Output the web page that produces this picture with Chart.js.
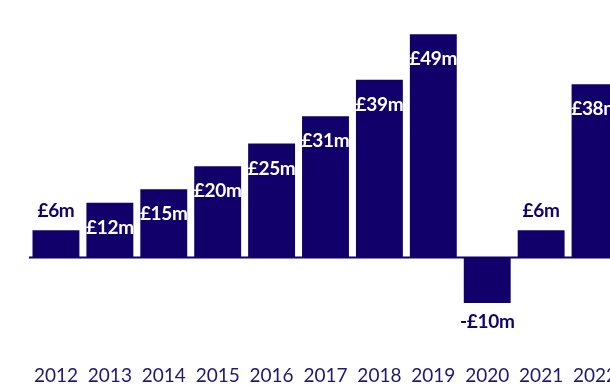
<!DOCTYPE html>
<html>
<head>
<meta charset="utf-8">
<script src="https://cdn.jsdelivr.net/npm/chart.js@4/dist/chart.umd.min.js"></script>
<style>
    html, body { margin: 0; padding: 0; background: #fff; overflow: hidden; }
    #wrap { position: relative; width: 622px; height: 386px; }
</style>
</head>
<body>
<div id="wrap"><canvas id="profitChart"></canvas></div>
<script>
const years = ['2012', '2013', '2014', '2015', '2016', '2017', '2018', '2019', '2020', '2021', '2022'];
const profits = [6, 12, 15, 20, 25, 31, 39, 49, -10, 6, 38];
const navy = '#12006a';

function money(v) {
    return (v < 0 ? '-£' : '£') + Math.abs(v) + 'm';
}

// value labels: white inside tall bars, navy outside short or negative ones
const barLabels = {
    id: 'barLabels',
    afterDatasetsDraw(chart) {
        const c = chart.ctx;
        const area = chart.chartArea;
        const zero = chart.scales.y.getPixelForValue(0);

        c.save();
        c.fillStyle = navy;
        c.fillRect(area.left, zero - 1, area.right - area.left, 2);

        c.font = 'bold 19px Lato';
        c.letterSpacing = '-0.3px';
        c.textAlign = 'center';
        c.textBaseline = 'middle';
        chart.getDatasetMeta(0).data.forEach(function (bar, i) {
            let v = profits[i];
            let y;
            if (v < 0) {
                c.fillStyle = navy;
                y = bar.y + 19;
            } else if (v < 10) {
                c.fillStyle = navy;
                y = bar.y - 19;
            } else {
                c.fillStyle = '#ffffff';
                y = bar.y + 25;
            }
            c.fillText(money(v), bar.x, y);
        });
        c.restore();
    }
};

const ctx = document.getElementById('profitChart');

new Chart(ctx, {
    type: 'bar',
    data: {
        labels: years,
        datasets: [{
            data: profits,
            backgroundColor: navy,
            borderWidth: 0,
            categoryPercentage: 1,
            barPercentage: 0.87,
        }]
    },
    options: {
        responsive: true,
        maintainAspectRatio: false,
        animation: false,
        layout: {
            padding: { left: 29, right: 0, top: 0, bottom: -4 }
        },
        scales: {
            x: {
                grid: { display: false },
                border: { display: false },
                ticks: {
                    color: '#1d1870',
                    font: { family: 'Lato', size: 19 },
                    padding: 3,
                    maxRotation: 0,
                    autoSkip: false
                }
            },
            y: {
                display: false,
                min: -21,
                max: 56.5
            }
        },
        plugins: {
            legend: { display: false },
            tooltip: { enabled: false }
        }
    },
    plugins: [barLabels]
});
</script>
</body>
</html>
